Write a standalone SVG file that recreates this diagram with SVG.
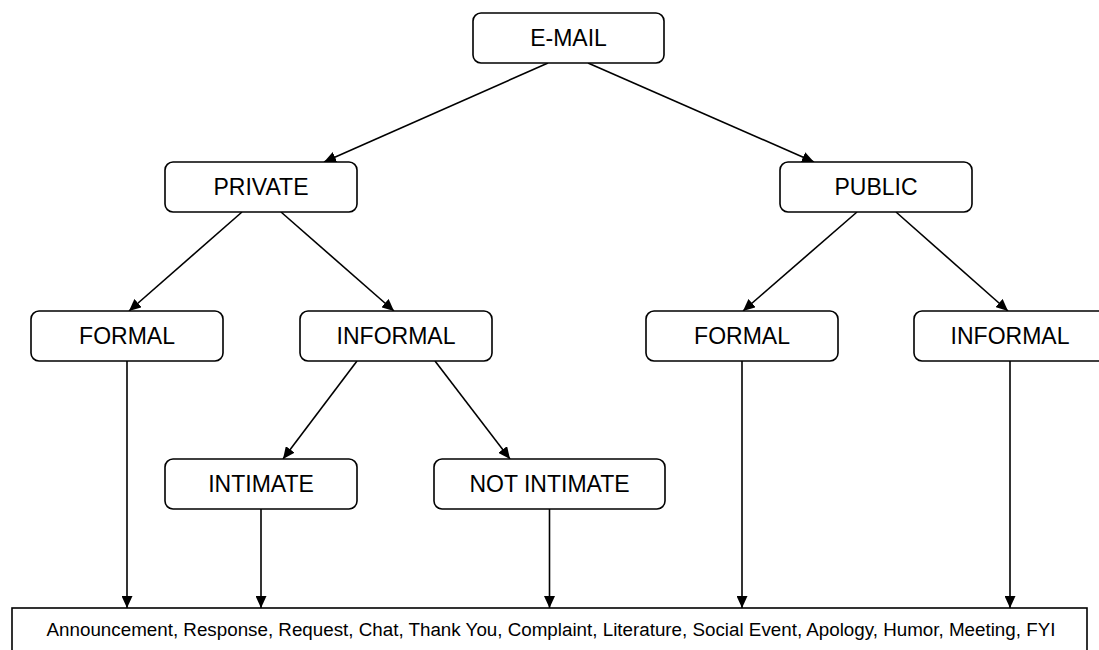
<svg xmlns="http://www.w3.org/2000/svg" width="1099" height="650" viewBox="0 0 1099 650">
<style>
.box{fill:#fff;stroke:#000;stroke-width:1.6}
.lbl{font-family:"Liberation Sans",Arial,sans-serif;font-size:23px;fill:#000;text-anchor:middle}
.small{font-family:"Liberation Sans",Arial,sans-serif;font-size:18.8px;fill:#000;text-anchor:middle}
.edge{stroke:#000;stroke-width:1.6;fill:none;marker-end:url(#arr)}
</style>
<defs>
<marker id="arr" markerUnits="userSpaceOnUse" markerWidth="13" markerHeight="11" refX="12" refY="5.5" orient="auto">
<path d="M0,0 L12,5.5 L0,11 z" fill="#000"/>
</marker>
</defs>
<rect width="1099" height="650" fill="#fff"/>
<g id="connectors">
<line class="edge" x1="548" y1="63" x2="324" y2="162"/>
<line class="edge" x1="588" y1="63" x2="814" y2="162"/>
<line class="edge" x1="242" y1="212" x2="129" y2="311"/>
<line class="edge" x1="281" y1="212" x2="394" y2="311"/>
<line class="edge" x1="857" y1="212" x2="743" y2="311"/>
<line class="edge" x1="896" y1="212" x2="1008" y2="311"/>
<line class="edge" x1="357" y1="361" x2="283" y2="459"/>
<line class="edge" x1="435" y1="361" x2="510" y2="459"/>
<line class="edge" x1="127" y1="361" x2="127" y2="608"/>
<line class="edge" x1="261" y1="509" x2="261" y2="608"/>
<line class="edge" x1="549.5" y1="509" x2="549.5" y2="608"/>
<line class="edge" x1="742" y1="361" x2="742" y2="608"/>
<line class="edge" x1="1010" y1="361" x2="1010" y2="608"/>
</g>
<g id="email"><rect class="box" x="473" y="13" width="191" height="50" rx="8"/><text class="lbl" x="568.5" y="46">E-MAIL</text></g>
<g id="private"><rect class="box" x="165" y="162" width="192" height="50" rx="8"/><text class="lbl" x="261" y="195">PRIVATE</text></g>
<g id="public"><rect class="box" x="780" y="162" width="192" height="50" rx="8"/><text class="lbl" x="876" y="195">PUBLIC</text></g>
<g id="formal-private"><rect class="box" x="31" y="311" width="192" height="50" rx="8"/><text class="lbl" x="127" y="344">FORMAL</text></g>
<g id="informal-private"><rect class="box" x="300" y="311" width="192" height="50" rx="8"/><text class="lbl" x="396" y="344">INFORMAL</text></g>
<g id="formal-public"><rect class="box" x="646" y="311" width="192" height="50" rx="8"/><text class="lbl" x="742" y="344">FORMAL</text></g>
<g id="informal-public"><rect class="box" x="914" y="311" width="192" height="50" rx="8"/><text class="lbl" x="1010" y="344">INFORMAL</text></g>
<g id="intimate"><rect class="box" x="165" y="459" width="192" height="50" rx="8"/><text class="lbl" x="261" y="492">INTIMATE</text></g>
<g id="not-intimate"><rect class="box" x="434" y="459" width="231" height="50" rx="8"/><text class="lbl" x="549.5" y="492">NOT INTIMATE</text></g>
<g id="categories"><rect class="box" x="12" y="608" width="1075" height="60"/><text class="small" x="551" y="636">Announcement, Response, Request, Chat, Thank You, Complaint, Literature, Social Event, Apology, Humor, Meeting, FYI</text></g>
</svg>
